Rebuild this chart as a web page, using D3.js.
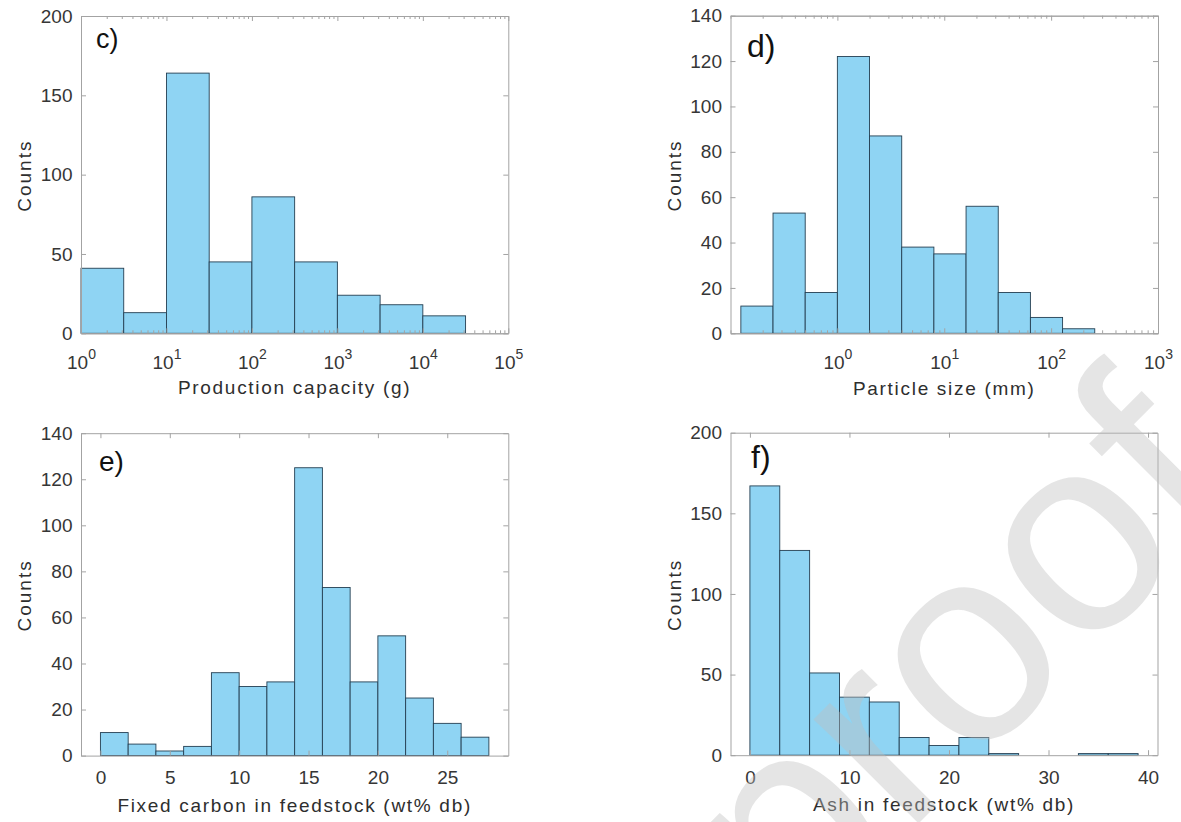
<!DOCTYPE html>
<html><head><meta charset="utf-8">
<script src="https://cdn.jsdelivr.net/npm/d3@7/dist/d3.min.js"></script>
<style>
body{margin:0;background:#fff}
svg{display:block}
</style>
</head><body>
<svg id="chart" width="1181" height="822"></svg>
<script>
// ---------- data ----------
const capacityEdges  = [1, 3.1623, 10, 31.623, 100, 316.23, 1000, 3162.3, 10000, 31623];
const capacityCounts = [41, 13, 164, 45, 86, 45, 24, 18, 11];
const capacityTicks  = [1, 10, 100, 1000, 10000, 100000];

const particleEdges  = [0.125, 0.25, 0.5, 1, 2, 4, 8, 16, 32, 64, 128, 256];
const particleCounts = [12, 53, 18, 122, 87, 38, 35, 56, 18, 7, 2];
const particleTicks  = [1, 10, 100, 1000];

const carbonEdges  = [0, 2, 4, 6, 8, 10, 12, 14, 16, 18, 20, 22, 24, 26, 28];
const carbonCounts = [10, 5, 2, 4, 36, 30, 32, 125, 73, 32, 52, 25, 14, 8];
const carbonTicks  = [0, 5, 10, 15, 20, 25];

const ashEdges  = [0, 3, 6, 9, 12, 15, 18, 21, 24, 27, 30, 33, 36, 39];
const ashCounts = [167, 127, 51, 36, 33, 11, 6, 11, 1, 0, 0, 1, 1];
const ashTicks  = [0, 10, 20, 30, 40];

const counts200Ticks = [0, 50, 100, 150, 200];
const counts140Ticks = [0, 20, 40, 60, 80, 100, 120, 140];

const panelTags   = ["c)", "d)", "e)", "f)"];
const xAxisTitles = ["Production capacity (g)", "Particle size (mm)", "Fixed carbon in feedstock (wt% db)", "Ash in feedstock (wt% db)"];
const yAxisTitle  = "Counts";
const watermark   = "Journal Pre-proof";

// ---------- style ----------
const FONT = "'Liberation Sans', Arial, Helvetica, sans-serif";
const BAR_FILL = "#8fd4f3", BAR_STROKE = "#243f52";
const AXIS = "#a3a3a3", TICK_TXT = "#363636", LABEL_TXT = "#2e2e2e";

const panels = [
  {left:81,    top:16,    w:427.3, h:317.3, log:true,  xDomain:[1,1e5],        edges:capacityEdges, counts:capacityCounts, xTicks:capacityTicks, yMax:200, yTicks:counts200Ticks, title:xAxisTitles[0], titleY:394, tag:panelTags[0], tagX:96,  tagY:47.5, tagSize:27},
  {left:730.5, top:15.7,  w:427.5, h:317.6, log:true,  xDomain:[0.1,1000],     edges:particleEdges, counts:particleCounts, xTicks:particleTicks, yMax:140, yTicks:counts140Ticks, title:xAxisTitles[1], titleY:395, tag:panelTags[1], tagX:747, tagY:56.5, tagSize:32},
  {left:81,    top:433.2, w:427.3, h:322.4, log:false, xDomain:[-1.4,29.4],    edges:carbonEdges,   counts:carbonCounts,   xTicks:carbonTicks,   yMax:140, yTicks:counts140Ticks, title:xAxisTitles[2], titleY:812, tag:panelTags[2], tagX:99,  tagY:470.5, tagSize:28},
  {left:730.5, top:432.7, w:427,   h:322.5, log:false, xDomain:[-1.95,40.95],  edges:ashEdges,      counts:ashCounts,      xTicks:ashTicks,      yMax:200, yTicks:counts200Ticks, title:xAxisTitles[3], titleY:811, tag:panelTags[3], tagX:751, tagY:468, tagSize:32}
];

const svg = d3.select("#chart");

function styleAxis(g) {
  g.attr("font-family", FONT).attr("font-size", 19);
  g.select(".domain").attr("stroke", AXIS).attr("stroke-width", 1);
  g.selectAll(".tick line").attr("stroke", AXIS).attr("stroke-width", 1);
  g.selectAll(".tick text").attr("fill", TICK_TXT);
}

panels.forEach(p => {
  const g = svg.append("g").attr("transform", `translate(${p.left},${p.top})`);
  const x = (p.log ? d3.scaleLog() : d3.scaleLinear()).domain(p.xDomain).range([0, p.w]);
  const y = d3.scaleLinear().domain([0, p.yMax]).range([p.h, 0]);

  // bars
  const bins = p.counts.map((c, i) => ({x0: p.edges[i], x1: p.edges[i + 1], c})).filter(b => b.c > 0);
  g.selectAll("rect.bar").data(bins).join("rect").attr("class", "bar")
    .attr("x", b => x(b.x0)).attr("y", b => y(b.c))
    .attr("width", b => x(b.x1) - x(b.x0)).attr("height", b => y(0) - y(b.c))
    .attr("fill", BAR_FILL).attr("stroke", BAR_STROKE).attr("stroke-width", 0.9);

  // axes (inward ticks, box)
  const xb = d3.axisBottom(x).tickValues(p.xTicks).tickSizeInner(-5).tickSizeOuter(0).tickPadding(p.log ? 22 : 15)
    .tickFormat(p.log ? () => "" : d3.format("d"));
  const gx = g.append("g").attr("transform", `translate(0,${p.h})`).call(xb);
  styleAxis(gx);
  if (p.log) {
    gx.selectAll(".tick text").each(function(d) {
      const t = d3.select(this);
      t.text(null);
      t.append("tspan").text("10");
      t.append("tspan").attr("dy", -10).attr("font-size", 14).text(Math.round(Math.log10(d)));
    });
  }
  const gt = g.append("g").call(d3.axisTop(x).tickValues(p.xTicks).tickSizeInner(-5).tickSizeOuter(0).tickFormat(() => ""));
  styleAxis(gt);
  const gy = g.append("g").call(d3.axisLeft(y).tickValues(p.yTicks).tickSizeInner(-5).tickSizeOuter(0).tickPadding(8.5));
  styleAxis(gy);
  const gr = g.append("g").attr("transform", `translate(${p.w},0)`)
    .call(d3.axisRight(y).tickValues(p.yTicks).tickSizeInner(-5).tickSizeOuter(0).tickFormat(() => ""));
  styleAxis(gr);

  // minor log ticks
  if (p.log) {
    const minor = x.ticks().filter(v => !p.xTicks.some(t => Math.abs(t - v) / t < 1e-9));
    const mb = d3.axisBottom(x).tickValues(minor).tickSizeInner(-3).tickSizeOuter(0).tickFormat(() => "");
    const mt = d3.axisTop(x).tickValues(minor).tickSizeInner(-3).tickSizeOuter(0).tickFormat(() => "");
    const g1 = g.append("g").attr("transform", `translate(0,${p.h})`).call(mb); styleAxis(g1);
    const g2 = g.append("g").call(mt); styleAxis(g2);
  }

  // labels
  g.append("text").attr("x", p.w / 2).attr("y", p.titleY - p.top)
    .attr("text-anchor", "middle").attr("font-family", FONT).attr("font-size", 19)
    .attr("letter-spacing", "1.7px").attr("fill", LABEL_TXT).text(p.title);
  g.append("text").attr("transform", `translate(-50,${p.h / 2 + 1}) rotate(-90)`)
    .attr("text-anchor", "middle").attr("font-family", FONT).attr("font-size", 19)
    .attr("letter-spacing", "2px").attr("fill", LABEL_TXT).text(yAxisTitle);
  svg.append("text").attr("x", p.tagX).attr("y", p.tagY)
    .attr("font-family", FONT).attr("font-size", p.tagSize).attr("fill", "#111").text(p.tag);
});

// watermark (drawn over the charts, partly off the page as in the reference)
svg.append("text").attr("transform", "translate(1246,496) rotate(-45)")
  .attr("text-anchor", "end").attr("font-family", FONT).attr("font-size", 280)
  .attr("fill", "#bdbdbd").attr("fill-opacity", 0.4).text(watermark);
</script>
</body></html>
